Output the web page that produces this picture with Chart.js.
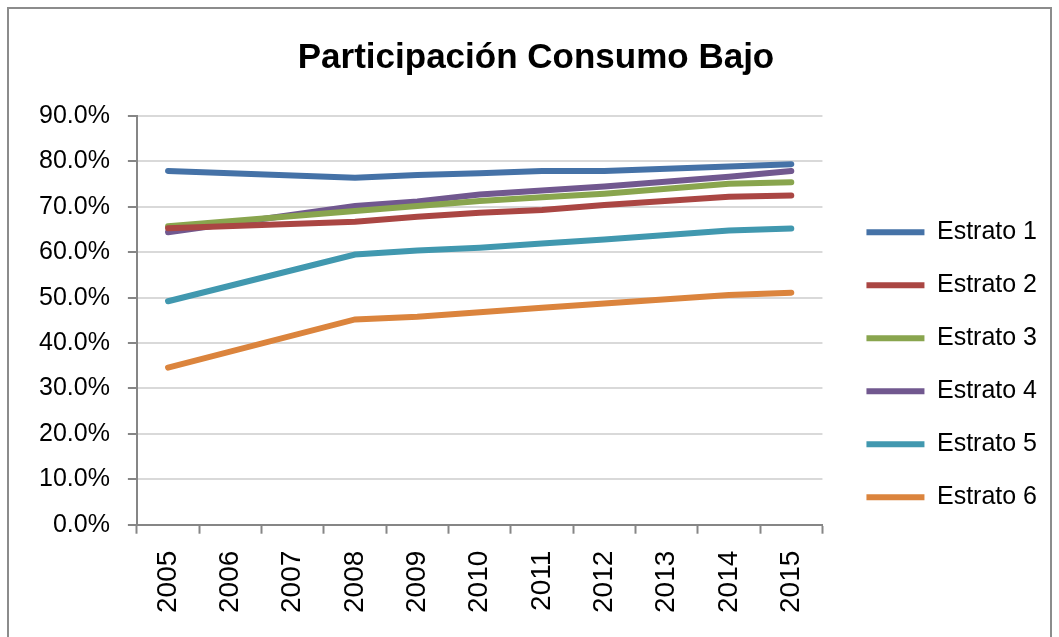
<!DOCTYPE html>
<html>
<head>
<meta charset="utf-8">
<script src="https://cdn.jsdelivr.net/npm/chart.js@4"></script>
<style>
  body { margin: 0; background: #fff; }
  #wrap { position: absolute; left: 0; top: 0; width: 1059px; height: 637px; }
  #frame { position: absolute; left: 7px; top: 7px; width: 1041px; height: 640px; border: 2px solid #8c8c8c; pointer-events: none; }
</style>
</head>
<body>
<div id="wrap"><canvas id="chart"></canvas></div>
<div id="frame"></div>
<script>
const years = ['2005', '2006', '2007', '2008', '2009', '2010', '2011', '2012', '2013', '2014', '2015'];
const yTicks = [0, 10, 20, 30, 40, 50, 60, 70, 80, 90];

// participation, percent (2006, 2007, 2013 not reported)
const estrato1 = [77.9, null, null, 76.4, 77.0, 77.4, 77.9, 77.9, null, 78.9, 79.4];
const estrato2 = [65.3, null, null, 66.7, 67.8, 68.7, 69.3, 70.4, null, 72.2, 72.5];
const estrato3 = [65.7, null, null, 69.1, 70.2, 71.3, 72.1, 72.9, null, 75.1, 75.4];
const estrato4 = [64.4, null, null, 70.2, 71.2, 72.7, 73.6, 74.5, null, 76.6, 77.9];
const estrato5 = [49.2, null, null, 59.5, 60.4, 61.0, 61.9, 62.8, null, 64.8, 65.2];
const estrato6 = [34.6, null, null, 45.2, 45.8, 46.8, 47.8, 48.7, null, 50.6, 51.1];

const names = ['Estrato 1', 'Estrato 2', 'Estrato 3', 'Estrato 4', 'Estrato 5', 'Estrato 6'];
const colors = ['#4572A7', '#AA4643', '#89A54E', '#71588F', '#4198AF', '#DB843D'];
const series = [estrato1, estrato2, estrato3, estrato4, estrato5, estrato6];

const font = 'Liberation Sans';

const data = {
  labels: years,
  datasets: series.map((s, i) => ({
    label: names[i],
    data: s,
    borderColor: colors[i],
    backgroundColor: colors[i],
    borderWidth: 6,
    borderCapStyle: 'round',
    pointRadius: 0,
    pointStyle: 'line',
    spanGaps: true,
    tension: 0
  }))
};

// push the legend a bit away from the plot, title a bit right
const nudge = {
  id: 'nudge',
  afterLayout(chart) {
    chart.legend.left += 16;
    chart.legend.right += 16;
    chart.titleBlock.left += 10;
    chart.titleBlock.right += 10;
  }
};

const config = {
  type: 'line',
  data: data,
  plugins: [nudge],
  options: {
    responsive: true,
    maintainAspectRatio: false,
    animation: false,
    layout: { padding: { left: 21, right: 28, top: 37, bottom: 7 } },
    plugins: {
      title: {
        display: true,
        text: 'Participación Consumo Bajo',
        color: '#000',
        font: { family: font, size: 35, weight: 'bold' },
        padding: { top: 0, bottom: 37 }
      },
      legend: {
        position: 'right',
        title: { display: true, text: '', padding: { top: 48, bottom: 0 } },
        labels: {
          color: '#000',
          font: { family: font, size: 25 },
          usePointStyle: true,
          pointStyleWidth: 58,
          boxWidth: 58,
          padding: 28
        }
      },
      tooltip: { enabled: false }
    },
    scales: {
      x: {
        offset: true,
        grid: { offset: true, drawOnChartArea: false, tickLength: 9, tickColor: '#868686', tickWidth: 2 },
        border: { color: '#868686', width: 2 },
        ticks: { color: '#000', minRotation: 90, maxRotation: 90, padding: 17, font: { family: font, size: 28 } }
      },
      y: {
        min: 0,
        max: 90,
        afterBuildTicks: (axis) => { axis.ticks = yTicks.map(v => ({ value: v })); },
        grid: { color: '#d9d9d9', lineWidth: 2, tickLength: 9, tickColor: '#868686', tickWidth: 2 },
        border: { color: '#868686', width: 2 },
        ticks: { color: '#000', padding: 18, font: { family: font, size: 25 }, callback: v => v.toFixed(1) + '%' }
      }
    }
  }
};

new Chart(document.getElementById('chart'), config);
</script>
</body>
</html>
